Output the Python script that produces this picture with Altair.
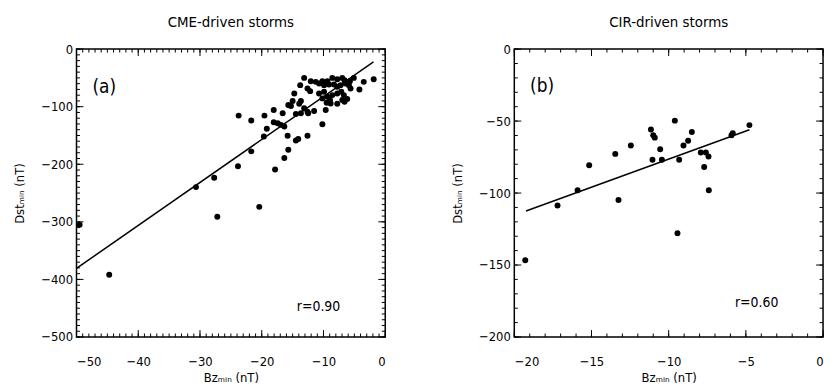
import altair as alt
import pandas as pd

# ---------------- Panel (a): CME-driven storms ----------------
cme_bz = [-13.13, -12.06, -11.25, -10.18, -9.37, -8.57, -7.77, -6.96, -6.59, -5.73, -5.09, -3.48, -1.87,
          -13.77, -12.59, -12.16, -10.72, -9.91, -9.11, -8.30, -7.77, -7.23, -6.43, -5.89, -4.18, -5.62,
          -14.73, -10.72, -9.91, -9.37, -8.57, -7.77, -7.12, -6.70, -6.16, -8.95, -10.18,
          -15.00, -13.66, -15.70, -15.27, -13.93, -9.48, -8.84, -7.77, -6.96, -6.59,
          -13.13, -12.59, -12.48, -11.52, -14.47, -13.66, -9.64, -16.61, -18.06, -19.56, -23.74,
          -21.70, -18.06, -17.41, -16.88, -16.34, -10.18, -19.18,
          -19.66, -15.81, -14.47, -14.09, -12.59,
          -15.70, -16.34, -17.84, -21.70, -23.85, -27.70, -30.65,
          -49.5, -44.7, -27.2, -20.4]
cme_dst = [-50.0, -55.7, -56.9, -55.7, -55.7, -50.0, -52.3, -50.0, -54.0, -55.7, -50.0, -56.9, -52.3,
           -62.6, -68.4, -73.0, -59.8, -62.6, -61.5, -61.5, -65.5, -62.6, -59.8, -62.6, -70.1, -68.4,
           -77.0, -77.0, -74.1, -82.8, -79.9, -77.0, -74.1, -79.9, -86.8, -88.5, -85.6,
           -90.2, -90.2, -97.1, -98.9, -94.8, -93.1, -94.3, -94.8, -88.5, -91.4,
           -102.9, -108.6, -111.5, -107.5, -112.6, -111.5, -105.7, -111.5, -105.7, -115.5, -115.5,
           -124.1, -127.0, -128.7, -131.6, -134.5, -130.5, -138.5,
           -151.7, -150.6, -158.6, -156.3, -150.6,
           -174.7, -189.1, -209.2, -177.6, -203.4, -223.6, -239.7,
           -305.0, -392.0, -291.0, -274.0]
cme_fit_bz = [-50.0, -1.9]
cme_fit_dst = [-380.8, -22.0]

# ---------------- Panel (b): CIR-driven storms ----------------
cir_bz = [-9.60, -11.15, -11.00, -10.90, -8.50, -8.74, -9.04, -10.55, -12.45, -13.46, -15.15,
          -11.05, -10.44, -9.32, -7.92, -7.59, -7.42, -7.70, -5.93, -5.85, -4.77,
          -15.90, -17.20, -13.25, -7.40, -9.43, -19.29]
cir_dst = [-49.7, -55.8, -59.9, -61.5, -57.6, -63.7, -66.9, -69.6, -66.9, -72.8, -80.7,
           -76.9, -76.9, -76.9, -71.9, -71.9, -74.6, -81.9, -59.8, -58.5, -52.8,
           -98.0, -108.6, -104.8, -98.0, -127.9, -146.7]
cir_fit_bz = [-19.24, -4.77]
cir_fit_dst = [-112.5, -56.0]

# tick values
a_x_major = [-50, -40, -30, -20, -10, 0]
a_x_minor = list(range(-50, 1, 1))
a_y_major = [-500, -400, -300, -200, -100, 0]
a_y_minor = list(range(-500, 1, 10))
b_x_major = [-20, -15, -10, -5, 0]
b_x_minor = list(range(-20, 1, 1))
b_y_major = [-200, -150, -100, -50, 0]
b_y_minor = list(range(-200, 1, 10))

FONT = "DejaVu Sans Condensed, Liberation Sans Narrow, DejaVu Sans"
W, H = 311, 290
MAJ, MIN = 7, 3.5


def panel(bz, dst, fbz, fdst, xdom, ydom, xmaj, xmin, ymaj, ymin, title,
          letter, letter_xy, rtext, r_xy):
    pts = pd.DataFrame({"bz": bz, "dst": dst})
    fit = pd.DataFrame({"bz": fbz, "dst": fdst})
    xs = alt.Scale(domain=xdom, nice=False, zero=False)
    ys = alt.Scale(domain=ydom, nice=False, zero=False)
    xa = alt.Axis(orient="bottom", values=xmaj, ticks=False, domain=False, grid=False,
                  labelPadding=19, title="Bzₘᵢₙ (nT)", titlePadding=3,
                  titleFontWeight="normal", labelFont=FONT, titleFont=FONT,
                  labelFontSize=13, titleFontSize=13, labelColor="black",
                  titleColor="black")
    ya = alt.Axis(orient="left", values=ymaj, ticks=False, domain=False, grid=False,
                  labelPadding=4, title="Dstₘᵢₙ (nT)", titlePadding=14,
                  titleFontWeight="normal", labelFont=FONT, titleFont=FONT,
                  labelFontSize=13, titleFontSize=13, labelColor="black",
                  titleColor="black")

    def X(f):
        return alt.X(f, scale=xs, axis=xa)

    def Y(f):
        return alt.Y(f, scale=ys, axis=ya)

    main = alt.Chart(pts).mark_circle(size=36, color="black", opacity=1).encode(
        x=X("bz:Q"), y=Y("dst:Q"))
    line = alt.Chart(fit).mark_line(color="black", strokeWidth=1.5).encode(
        x=X("bz:Q"), y=Y("dst:Q"))

    def xticks(vals, size):
        d = pd.DataFrame({"v": vals})
        bot = alt.Chart(d).mark_rule(color="black", strokeWidth=1).encode(
            x=X("v:Q"), y=alt.value(H), y2=alt.value(H - size))
        top = alt.Chart(d).mark_rule(color="black", strokeWidth=1).encode(
            x=X("v:Q"), y=alt.value(0), y2=alt.value(size))
        return [bot, top]

    def yticks(vals, size):
        d = pd.DataFrame({"v": vals})
        left = alt.Chart(d).mark_rule(color="black", strokeWidth=1).encode(
            y=Y("v:Q"), x=alt.value(0), x2=alt.value(size))
        right = alt.Chart(d).mark_rule(color="black", strokeWidth=1).encode(
            y=Y("v:Q"), x=alt.value(W), x2=alt.value(W - size))
        return [left, right]

    ticks = xticks(xmaj, MAJ) + xticks(xmin, MIN) + yticks(ymaj, MAJ) + yticks(ymin, MIN)

    lab = pd.DataFrame({"bz": [letter_xy[0]], "dst": [letter_xy[1]], "t": [letter]})
    letter_t = alt.Chart(lab).mark_text(fontSize=19, font=FONT, color="black").encode(
        x=X("bz:Q"), y=Y("dst:Q"), text="t:N")
    rlab = pd.DataFrame({"bz": [r_xy[0]], "dst": [r_xy[1]], "t": [rtext]})
    r_t = alt.Chart(rlab).mark_text(fontSize=14, font=FONT, color="black").encode(
        x=X("bz:Q"), y=Y("dst:Q"), text="t:N")
    return alt.layer(main, line, *ticks, letter_t, r_t).properties(
        width=W, height=H,
        title=alt.TitleParams(title, fontSize=15, font=FONT, fontWeight="normal",
                              offset=13, anchor="middle", color="black"))


pa = panel(cme_bz, cme_dst, cme_fit_bz, cme_fit_dst, [-50, 0], [-500, 0],
           a_x_major, a_x_minor, a_y_major, a_y_minor, "CME-driven storms",
           "(a)", (-45.5, -65.5), "r=0.90", (-10.8, -448))
pb = panel(cir_bz, cir_dst, cir_fit_bz, cir_fit_dst, [-20, 0], [-200, 0],
           b_x_major, b_x_minor, b_y_major, b_y_minor, "CIR-driven storms",
           "(b)", (-18.2, -25.9), "r=0.60", (-4.3, -176.7))

chart = alt.hconcat(pa, pb, spacing=64).configure_view(
    stroke="black", strokeWidth=1.5)

chart.save("out.html", embed_options={"renderer": "svg", "actions": False})
